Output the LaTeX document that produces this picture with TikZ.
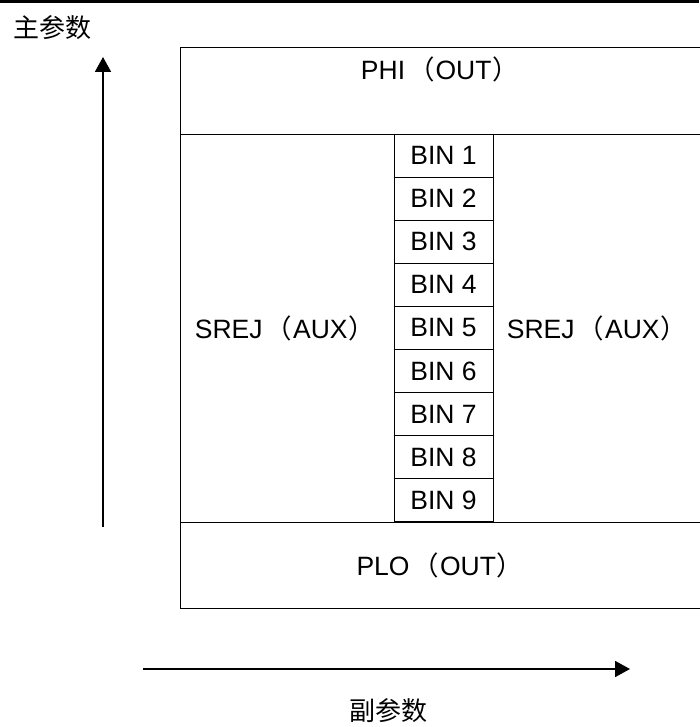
\documentclass[tikz,border=0pt]{standalone}
\usepackage{fontspec}
\setmainfont{Liberation Sans}
\newfontfamily\cjk{Noto Sans CJK SC}
\usetikzlibrary{arrows.meta,positioning}
\newcommand\fwlp{\kern3pt{\cjk （}\kern1pt}
\newcommand\fwrp{\kern1pt{\cjk ）}}
\tikzset{
  region/.style={
    draw=black, line width=0.9pt, inner sep=0pt, outer sep=0pt, anchor=north west
  },
  bin/.style={
    draw=black, line width=0.9pt, inner sep=0pt, outer sep=0pt,
    minimum width=99pt, minimum height=43.1pt,
    font=\fontsize{26.5pt}{30pt}\selectfont
  },
  tag/.style={inner sep=0pt, anchor=base, font=\fontsize{26.5pt}{30pt}\selectfont},
  axislabel/.style={inner sep=0pt, font=\fontsize{26pt}{30pt}\cjk},
  axis/.style={-{Triangle[length=15pt,width=16pt]}, line width=1.8pt, draw=black}
}
\begin{document}
\begin{tikzpicture}[x=1pt,y=-1pt]
    \useasboundingbox (0,0) rectangle (699,727);
    \draw[line width=2.6pt] (0,1.5) -- (699,1.5);
    \node[axislabel] (ylabel) at (52,28) {主参数};
    \node[region,minimum width=525pt,minimum height=87pt] (phi) at (180,47) {};
    \node[region,minimum width=525pt,minimum height=388pt] (mid) at (180,134) {};
    \node[region,minimum width=525pt,minimum height=86pt] (plo) at (180,522) {};
    \node[bin,anchor=north] (bin1) at (443.5,134) {BIN 1};
    \foreach \i [remember=\i as \prev (initially 1)] in {2,...,9}
      \node[bin,below=0pt of bin\prev] (bin\i) {BIN \i};
    \node[tag] (phitext) at (440,80) {PHI\fwlp OUT\fwrp};
    \node[tag] (srejl) at (285,338) {SREJ\fwlp AUX\fwrp};
    \node[tag] (srejr) at (597,338) {SREJ\fwlp AUX\fwrp};
    \node[tag] (plotext) at (440,575) {PLO\fwlp OUT\fwrp};
    \coordinate (vbot) at (103,527);
    \coordinate (vtop) at (103,57);
    \coordinate (hleft) at (143,669);
    \coordinate (hright) at (630,669);
    \draw[axis] (vbot) -- (vtop);
    \draw[axis] (hleft) -- (hright);
    \node[axislabel] (xlabel) at (388,711) {副参数};
  \end{tikzpicture}
\end{document}
